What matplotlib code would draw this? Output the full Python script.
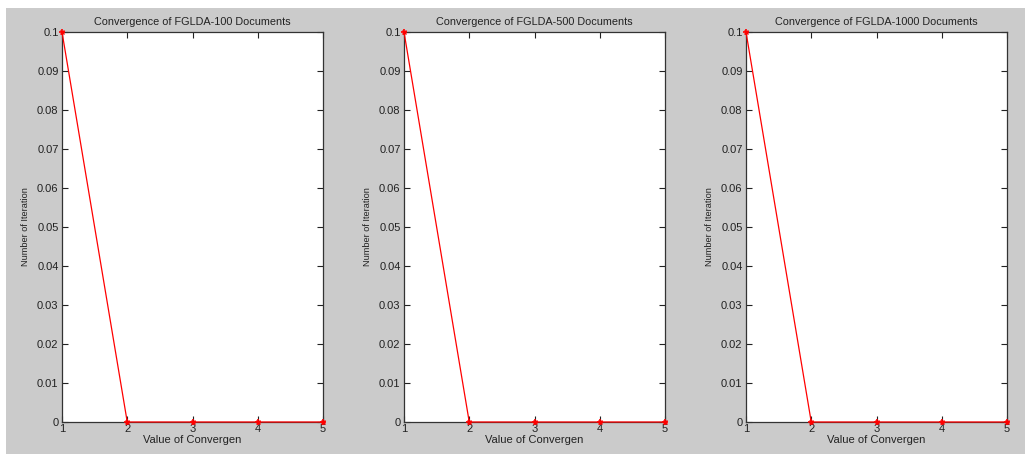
import matplotlib
matplotlib.use("Agg")
import matplotlib.pyplot as plt
from matplotlib.patches import Rectangle
from matplotlib import font_manager

x_values = [1, 2, 3, 4, 5]
y_values = [0.1, 0, 0, 0, 0]
titles = ["Convergence of FGLDA-100 Documents",
          "Convergence of FGLDA-500 Documents",
          "Convergence of FGLDA-1000 Documents"]
y_ticks = [0, 0.01, 0.02, 0.03, 0.04, 0.05, 0.06, 0.07, 0.08, 0.09, 0.1]
y_tick_labels = ["0", "0.01", "0.02", "0.03", "0.04", "0.05", "0.06", "0.07", "0.08", "0.09", "0.1"]
x_ticks = [1, 2, 3, 4, 5]

plt.rcParams['font.family'] = ['Liberation Sans', 'DejaVu Sans']

names = {f.name for f in font_manager.fontManager.ttflist}
if 'Liberation Sans Narrow' in names:
    ylab_family, ylab_size = ['Liberation Sans Narrow'], 7.6
else:
    ylab_family, ylab_size = ['Liberation Sans', 'DejaVu Sans'], 6.6

W, H = 1025, 454
fig = plt.figure(figsize=(W/100, H/100), dpi=100, facecolor='white')
fig.patches.append(Rectangle((6/W, 0), 1 - 6/W, 1 - 8/H, transform=fig.transFigure,
                             facecolor='#cbcbcb', edgecolor='none', zorder=-10))

lefts = [62, 404, 746]
width = 261
top, bottom = 32, 422
for i, left in enumerate(lefts):
    ax = fig.add_axes([left/W, 1 - bottom/H, width/W, (bottom - top)/H])
    ax.set_facecolor('white')
    ax.plot(x_values, y_values, color='red', lw=0.9, marker='+', ms=5, mew=1.2, clip_on=False, zorder=5)
    ax.plot(x_values, y_values, color='red', lw=0, marker='x', ms=3.5, mew=1.0, clip_on=False, zorder=5)
    ax.set_xlim(1, 5)
    ax.set_ylim(0, 0.1)
    ax.set_xticks(x_ticks)
    ax.set_yticks(y_ticks)
    ax.set_yticklabels(y_tick_labels)
    ax.tick_params(direction='in', top=True, right=True, length=4, width=0.8,
                   labelsize=8, pad=2.5, colors='#222222')
    ax.tick_params(axis='x', pad=1.5)
    for s in ax.spines.values():
        s.set_color('#333333')
        s.set_linewidth(0.9)
    ax.set_title(titles[i], fontsize=7.8, pad=5, color='#222222')
    ax.set_xlabel("Value of Convergen", fontsize=8, labelpad=0.5, color='#222222')
    ax.set_ylabel("Number of Iteration", family=ylab_family, fontsize=ylab_size,
                  labelpad=5, color='#222222')

fig.savefig("out.png", dpi=100, facecolor='white')
